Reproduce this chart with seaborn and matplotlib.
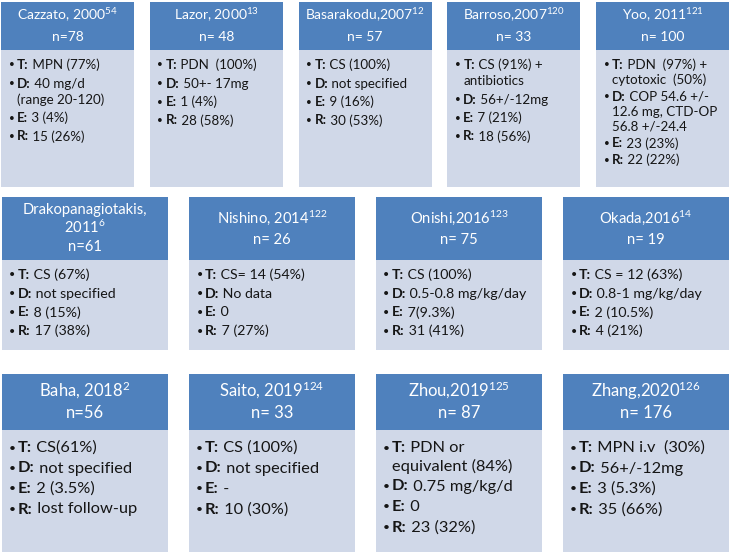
import matplotlib
matplotlib.use("Agg")
import matplotlib.pyplot as plt
from matplotlib.patches import Rectangle
import seaborn as sns

sns.set_theme(style="white")
plt.rcParams['font.family'] = ['Lato', 'DejaVu Sans']
plt.rcParams['mathtext.fontset'] = 'custom'
plt.rcParams['mathtext.rm'] = 'Lato'
plt.rcParams['mathtext.bf'] = 'Lato:bold'
plt.rcParams['mathtext.default'] = 'regular'

# ---------------- data ----------------
authors = ["Cazzato, 2000", "Lazor, 2000", "Basarakodu,2007", "Barroso,2007", "Yoo, 2011",
           "Drakopanagiotakis,\n2011", "Nishino, 2014", "Onishi,2016", "Okada,2016",
           "Baha, 2018", "Saito, 2019", "Zhou,2019", "Zhang,2020"]
refs = ["54", "13", "12", "120", "121", "6", "122", "123", "14", "2", "124", "125", "126"]
n_values = [78, 48, 57, 33, 100, 61, 26, 75, 19, 56, 33, 87, 176]
treatment = ["MPN (77%)", "PDN  (100%)", "CS (100%)", "CS (91%) +\nantibiotics",
             "PDN  (97%) +\ncytotoxic  (50%)",
             "CS (67%)", "CS= 14 (54%)", "CS (100%)", "CS = 12 (63%)",
             "CS(61%)", "CS (100%)", "PDN or\nequivalent (84%)", "MPN i.v  (30%)"]
dose = ["40 mg/d\n(range 20-120)", "50+- 17mg", "not specified", "56+/-12mg",
        "COP 54.6 +/-\n12.6 mg, CTD-OP\n56.8 +/-24.4",
        "not specified", "No data", "0.5-0.8 mg/kg/day", "0.8-1 mg/kg/day",
        "not specified", "not specified", "0.75 mg/kg/d", "56+/-12mg"]
effects = ["3 (4%)", "1 (4%)", "9 (16%)", "7 (21%)", "23 (23%)",
           "8 (15%)", "0", "7(9.3%)", "2 (10.5%)",
           "2 (3.5%)", "-", "0", "3 (5.3%)"]
relapse = ["15 (26%)", "28 (58%)", "30 (53%)", "18 (56%)", "22 (22%)",
           "17 (38%)", "7 (27%)", "31 (41%)", "4 (21%)",
           "lost follow-up", "10 (30%)", "23 (32%)", "35 (66%)"]
labels = ["T:", "D:", "E:", "R:"]
row_sizes = [5, 4, 4]

# ---------------- layout ----------------
W, H = 731, 554
HEAD_C = "#4F81BD"
BODY_C = "#D0D8E8"
TXT_C = "#151515"
rows = [
    dict(x0=1, pitch=148.75, w=133, top=2, hb=50, bot=187, fs=9.6, hfs=10.0,
         first=65, item=18.5, wrap=16, hpitch=22),
    dict(x0=2, pitch=187, w=166, top=197, hb=260, bot=350, fs=10.2, hfs=10.6,
         first=275, item=18.7, wrap=17, hpitch=22),
    dict(x0=2, pitch=187, w=166, top=374, hb=430, bot=552, fs=11.8, hfs=12.0,
         first=448, item=20.5, wrap=18, hpitch=23),
]
tight = {4: dict(item=16.7, wrap=15)}

fig = plt.figure(figsize=(W / 100, H / 100), dpi=100)
ax = fig.add_axes([0, 0, 1, 1])
ax.set_xlim(0, W)
ax.set_ylim(H, 0)
ax.axis("off")

idx = 0
for r, count in zip(rows, row_sizes):
    for j in range(count):
        x = r["x0"] + j * r["pitch"]
        w = r["w"]
        ax.add_patch(Rectangle((x, r["top"]), w, r["hb"] - r["top"], facecolor=HEAD_C,
                               edgecolor="none"))
        ax.add_patch(Rectangle((x, r["hb"]), w, r["bot"] - r["hb"], facecolor=BODY_C,
                               edgecolor="none"))
        # header
        tl = authors[idx].split("\n")
        tl[-1] = tl[-1] + "$^{" + refs[idx] + "}$"
        sep = "=" if idx in (0, 5, 9) else "= "
        hlines = tl + ["n" + sep + str(n_values[idx])]
        hc = (r["top"] + r["hb"]) / 2
        if len(hlines) == 2:
            ys = [hc - r["hpitch"] / 2, hc + r["hpitch"] / 2]
        else:
            ys = [hc - 18.5, hc - 1.5, hc + 18.5]
        for s, yy in zip(hlines, ys):
            ax.text(x + w / 2, yy, s, ha="center", va="center", color="white",
                    fontsize=r["hfs"])
        # body
        item = tight.get(idx, {}).get("item", r["item"])
        wrap = tight.get(idx, {}).get("wrap", r["wrap"])
        y = r["first"]
        lx = x + 16
        for lab, val in zip(labels, [treatment[idx], dose[idx], effects[idx], relapse[idx]]):
            parts = val.split("\n")
            ax.text(x + 10.5, y, "\u2022", ha="center", va="center", color=TXT_C,
                    fontsize=r["fs"] * 0.75)
            t = ax.text(lx, y, lab, ha="left", va="center", color=TXT_C,
                        fontsize=r["fs"], fontweight="bold")
            ax.annotate(" " + parts[0], xy=(1, 0.5), xycoords=t, ha="left", va="center",
                        color=TXT_C, fontsize=r["fs"])
            for p in parts[1:]:
                y += wrap
                ax.text(lx, y, p, ha="left", va="center", color=TXT_C,
                        fontsize=r["fs"])
            y += item
        idx += 1

fig.savefig("out.png", dpi=100, facecolor="white")
